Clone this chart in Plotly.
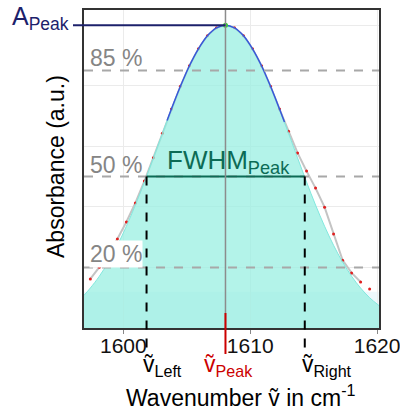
import plotly.graph_objects as go

# ---------------- data ----------------
wavenumber = [1597.40, 1598.11, 1598.82, 1599.53, 1600.24, 1600.95, 1601.66, 1602.37,
              1603.08, 1603.79, 1604.50, 1605.21, 1605.92, 1606.63, 1607.34, 1608.05,
              1608.76, 1609.47, 1610.18, 1610.89, 1611.60, 1612.31, 1613.02, 1613.73,
              1614.44, 1615.15, 1615.86, 1616.57, 1617.28, 1617.99, 1618.70, 1619.41]
absorbance = [0.162, 0.201, 0.248, 0.294, 0.350, 0.413, 0.485, 0.562,
              0.643, 0.723, 0.798, 0.866, 0.922, 0.965, 0.991, 1.000,
              0.991, 0.965, 0.922, 0.866, 0.798, 0.723, 0.650, 0.578,
              0.518, 0.462, 0.399, 0.310, 0.224, 0.182, 0.152, 0.129]

fit_x = [1596.90, 1597.40, 1598.11, 1598.82, 1599.53, 1600.24, 1600.95, 1601.66, 1602.37,
         1603.08, 1603.79, 1604.50, 1605.21, 1605.92, 1606.63, 1607.34, 1608.05,
         1608.76, 1609.47, 1610.18, 1610.89, 1611.60, 1612.31, 1613.02, 1613.73,
         1614.44, 1615.15, 1615.86, 1616.57, 1617.28, 1617.99, 1618.70, 1619.41, 1620.15]
fit_y = [0.108, 0.132, 0.171, 0.218, 0.273, 0.336, 0.406, 0.482, 0.562,
         0.643, 0.723, 0.798, 0.866, 0.922, 0.965, 0.991, 1.000,
         0.991, 0.965, 0.922, 0.866, 0.798, 0.723, 0.643, 0.562,
         0.482, 0.406, 0.336, 0.273, 0.218, 0.171, 0.132, 0.100, 0.074]

fitregion_x = [1603.45, 1603.79, 1604.50, 1605.21, 1605.92, 1606.63, 1607.34, 1608.05,
               1608.76, 1609.47, 1610.18, 1610.89, 1611.60, 1612.31, 1612.70]
fitregion_y = [0.685, 0.723, 0.798, 0.866, 0.922, 0.965, 0.991, 1.000,
               0.991, 0.965, 0.922, 0.866, 0.798, 0.723, 0.680]

peak_x, peak_y = 1608.05, 1.0
fwhm_left, fwhm_right = 1601.83, 1614.30
levels = [0.85, 0.50, 0.20]
level_labels = ["85 %", "50 %", "20 %"]
baseline_level = 0.12
x_ticks = [1600, 1610, 1620]

XMIN, XMAX = 1596.9, 1620.15
YMIN, YMAX = 0.0, 1.05

FONT = "Arial, Liberation Sans, sans-serif"
NAVY = "#1c216b"
TEAL = "#0c6b55"
RED = "#cc0000"
GRAYTXT = "#858585"

# plot-area geometry (pixels) used to place decorations
L, R, T, B = 84, 21, 10, 83
W, H = 400, 411
PW, PH = W - L - R, H - T - B


def xp(v):
    return (v - XMIN) / (XMAX - XMIN)


def yp(v):
    return (v - YMIN) / (YMAX - YMIN)


def pxx(px):
    return (px - L) / PW


def pxy(py):
    return (T + PH - py) / PH


fig = go.Figure()

# raw spectrum line (grey) and points (red)
fig.add_trace(go.Scatter(x=wavenumber[:-1], y=absorbance[:-1], mode="lines",
                         line=dict(color="#c4c4c4", width=2), hoverinfo="skip"))
fig.add_trace(go.Scatter(x=wavenumber, y=absorbance, mode="markers",
                         marker=dict(color="#e02020", size=3), hoverinfo="skip"))
# fitted peak area
fig.add_trace(go.Scatter(x=fit_x, y=fit_y, mode="lines", fill="tozeroy",
                         line=dict(color="rgba(130,232,222,1)", width=1, shape="spline"),
                         fillcolor="rgba(150,238,224,0.72)", hoverinfo="skip"))
# fit region curve (blue)
fig.add_trace(go.Scatter(x=fitregion_x, y=fitregion_y, mode="lines",
                         line=dict(color="#3a56d8", width=1.5, shape="spline"), hoverinfo="skip"))
# percentage levels
for lv in levels:
    fig.add_trace(go.Scatter(x=[XMIN, XMAX], y=[lv, lv], mode="lines",
                             line=dict(color="#a8a8a8", width=2, dash="dash"), hoverinfo="skip"))
# FWHM line
fig.add_trace(go.Scatter(x=[fwhm_left, fwhm_right], y=[0.5, 0.5], mode="lines",
                         line=dict(color=TEAL, width=2), hoverinfo="skip"))
# peak marker
fig.add_trace(go.Scatter(x=[peak_x], y=[peak_y], mode="markers",
                         marker=dict(color="#33cc33", size=5), hoverinfo="skip", cliponaxis=False))

shapes = []
# baseline band
shapes.append(dict(type="rect", xref="paper", yref="paper", x0=0, x1=1, y0=0,
                   y1=yp(baseline_level), line=dict(width=0),
                   fillcolor="rgba(0,150,210,0.07)", layer="between"))
# grey vertical at peak
shapes.append(dict(type="line", xref="paper", yref="paper", x0=xp(peak_x), x1=xp(peak_x),
                   y0=0, y1=1, line=dict(color="#8c8c8c", width=1.5), layer="above"))
# A_peak line
shapes.append(dict(type="line", xref="paper", yref="paper", x0=pxx(73), x1=xp(peak_x),
                   y0=yp(peak_y), y1=yp(peak_y), line=dict(color=NAVY, width=2)))
# red peak marker line under axis
shapes.append(dict(type="line", xref="paper", yref="paper", x0=xp(peak_x), x1=xp(peak_x),
                   y0=pxy(313), y1=pxy(354), line=dict(color=RED, width=2)))
# dashed FWHM boundaries
for xv in (fwhm_left, fwhm_right):
    shapes.append(dict(type="line", xref="paper", yref="paper", x0=xp(xv), x1=xp(xv),
                       y0=yp(0.5), y1=pxy(348), line=dict(color="black", width=2, dash="dash")))

annotations = []
annotations.append(dict(text="A<sub>Peak</sub>", xref="paper", yref="paper", x=pxx(71), y=pxy(18),
                        xanchor="right", yanchor="middle", showarrow=False,
                        font=dict(family=FONT, size=25, color=NAVY)))
annotations.append(dict(text="FWHM<sub>Peak</sub>", xref="paper", yref="paper", x=pxx(228), y=pxy(161),
                        xanchor="center", yanchor="middle", showarrow=False,
                        font=dict(family=FONT, size=26, color=TEAL)))
label_y = {0.85: 58, 0.50: 165, 0.20: 254}
for lv, lab in zip(levels, level_labels):
    bg = "white" if lv < 0.3 else "rgba(0,0,0,0)"
    annotations.append(dict(text=lab, xref="paper", yref="paper", x=pxx(89), y=pxy(label_y[lv]),
                            xanchor="left", yanchor="middle", showarrow=False, bgcolor=bg,
                            borderpad=0, font=dict(family=FONT, size=23, color=GRAYTXT)))
for txt, px, col in (("ṽ<sub>Left</sub>", 141, "black"),
                     ("ṽ<sub>Peak</sub>", 202, RED),
                     ("ṽ<sub>Right</sub>", 300, "black")):
    annotations.append(dict(text=txt, xref="paper", yref="paper", x=pxx(px), y=pxy(365),
                            xanchor="left", yanchor="middle", showarrow=False,
                            font=dict(family=FONT, size=23, color=col)))
annotations.append(dict(text="Wavenumber ṽ in cm<sup>-1</sup>", xref="paper", yref="paper",
                        x=pxx(241), y=pxy(396), xanchor="center", yanchor="middle", showarrow=False,
                        font=dict(family=FONT, size=23, color="black")))
annotations.append(dict(text="Absorbance (a.u.)", xref="paper", yref="paper",
                        x=pxx(56), y=pxy(167), xanchor="center", yanchor="middle", showarrow=False,
                        textangle=-90, font=dict(family=FONT, size=23, color="black")))

fig.update_layout(
    width=W, height=H, margin=dict(l=L, r=R, t=T, b=B, autoexpand=False),
    paper_bgcolor="white", plot_bgcolor="white", showlegend=False,
    shapes=shapes, annotations=annotations,
    xaxis=dict(range=[XMIN, XMAX], tickvals=x_ticks, ticktext=[str(t) for t in x_ticks],
               showgrid=True, gridcolor="#ebebeb", gridwidth=1, zeroline=False,
               showline=True, mirror=True, linecolor="#333333", linewidth=2,
               ticks="outside", ticklen=4, tickcolor="#888888", ticklabelstandoff=-6,
               ticklabeloverflow="allow", automargin=False,
               tickfont=dict(family=FONT, size=21, color="#111111")),
    yaxis=dict(range=[YMIN, YMAX], dtick=0.2, showticklabels=False, automargin=False,
               showgrid=True, gridcolor="#ebebeb", gridwidth=1, zeroline=False,
               showline=True, mirror=True, linecolor="#333333", linewidth=2, ticks=""),
)

fig.write_html("out.html")
